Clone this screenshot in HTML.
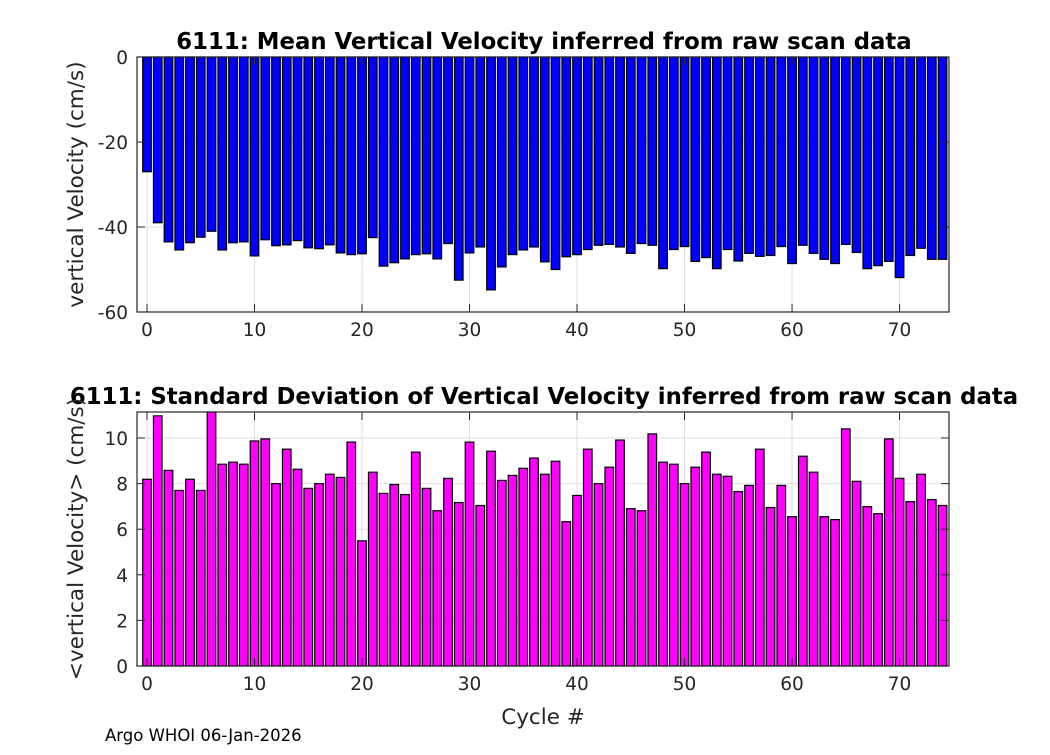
<!DOCTYPE html>
<html><head><meta charset="utf-8"><style>
body{margin:0;background:#fff;}
svg text{font-family:"DejaVu Sans","Liberation Sans",sans-serif;fill:#262626;}
</style></head><body>
<svg id="c" width="1050" height="750" xmlns="http://www.w3.org/2000/svg"></svg>
<script>
const cycles = Array.from({length:75},(_,i)=>i);
const meanVel = [-27,-39.0,-43.5,-45.4,-43.7,-42.4,-41.0,-45.4,-43.7,-43.5,-46.8,-43.0,-44.4,-44.2,-43.2,-44.9,-45.1,-44.2,-46.1,-46.5,-46.3,-42.5,-49.2,-48.4,-47.5,-46.5,-46.3,-47.5,-43.9,-52.5,-46.1,-44.7,-54.8,-49.4,-46.5,-45.4,-44.7,-48.2,-50.0,-47.0,-46.5,-45.3,-44.3,-44.1,-44.7,-46.2,-43.9,-44.3,-49.8,-45.3,-44.6,-48.1,-47.2,-49.8,-45.3,-48.0,-46.2,-46.9,-46.7,-44.6,-48.6,-44.3,-46.2,-47.6,-48.6,-44.1,-46.0,-49.8,-49.1,-48.1,-51.9,-46.7,-45.0,-47.6,-47.6];
const stdVel = [8.19,10.97,8.58,7.70,8.19,7.70,11.5,8.85,8.94,8.85,9.87,9.96,8.0,9.51,8.63,7.79,8.0,8.41,8.27,9.82,5.49,8.50,7.57,7.96,7.52,9.38,7.79,6.81,8.23,7.17,9.82,7.04,9.42,8.14,8.36,8.67,9.12,8.41,8.98,6.33,7.48,9.51,8.0,8.72,9.91,6.90,6.81,10.18,8.94,8.85,8.0,8.72,9.38,8.41,8.32,7.65,7.92,9.51,6.95,7.92,6.55,9.20,8.50,6.55,6.42,10.40,8.10,6.99,6.68,9.96,8.23,7.21,8.41,7.30,7.04];
const xTicks = [0,10,20,30,40,50,60,70];
const yTicksTop = [0,-20,-40,-60];
const yTicksBot = [0,2,4,6,8,10];

const NS="http://www.w3.org/2000/svg";
const svg=document.getElementById('c');
function el(t,a,txt){const e=document.createElementNS(NS,t);for(const k in a)e.setAttribute(k,a[k]);if(txt!==undefined)e.textContent=txt;svg.appendChild(e);return e;}
const L=137,R=949,X0=-0.93,X1=74.6;
const sx=v=>L+(v-X0)/(X1-X0)*(R-L);
const bw=0.8*(R-L)/(X1-X0);

function panel(top,bot,y0,y1,yticks,vals,color,title,ylab,pfx){
  const sy=v=>bot-(v-y0)/(y1-y0)*(bot-top);
  let g;
  xTicks.forEach(t=>{g=el('line',{x1:sx(t),x2:sx(t),y1:top,y2:bot,stroke:'#dfdfdf','stroke-width':1});
    });
  yticks.forEach(t=>{g=el('line',{x1:L,x2:R,y1:sy(t),y2:sy(t),stroke:'#dfdfdf','stroke-width':1});
    });
  const base=sy(0);
  vals.forEach((v,i)=>{
    const yv=Math.max(top,Math.min(bot,sy(v)));
    const b=el('rect',{x:sx(cycles[i])-bw/2,y:Math.min(base,yv),width:bw,height:Math.abs(yv-base),fill:color,stroke:'#000','stroke-width':1.2});
    
    
  });
  const f=el('rect',{x:L,y:top,width:R-L,height:bot-top,fill:'none',stroke:'#262626','stroke-width':1.2});
  
  xTicks.forEach(t=>{
    el('line',{x1:sx(t),x2:sx(t),y1:bot,y2:bot-8,stroke:'#262626'});
    el('line',{x1:sx(t),x2:sx(t),y1:top,y2:top+8,stroke:'#262626'});
    const tx=el('text',{x:sx(t),y:bot+24,'font-size':18.5,'text-anchor':'middle'},t);
    
  });
  yticks.forEach(t=>{
    el('line',{x1:L,x2:L+8,y1:sy(t),y2:sy(t),stroke:'#262626'});
    el('line',{x1:R,x2:R-8,y1:sy(t),y2:sy(t),stroke:'#262626'});
    const tx=el('text',{x:L-9,y:sy(t)+7,'font-size':18.5,'text-anchor':'end'},t);
    
  });
  const tt=el('text',{x:544,y:top-8,'font-size':22.8,'font-weight':'bold','text-anchor':'middle',style:'fill:#000'},title);
  
  const cy=(top+bot)/2;
  const yl=el('text',{x:83,y:cy,'font-size':21.5,'text-anchor':'middle',transform:`rotate(-90 83 ${cy})`},ylab);
  
}
panel(57,312,-60,0,yTicksTop,meanVel,'#0000ff','6111: Mean Vertical Velocity inferred from raw scan data','vertical Velocity (cm/s)','mean');
panel(412,666,0,11.14,yTicksBot,stdVel,'#ff00ff','6111: Standard Deviation of Vertical Velocity inferred from raw scan data','<vertical Velocity> (cm/s)','std');
let t=el('text',{x:543,y:724,'font-size':21.5,'text-anchor':'middle'},'Cycle #');

t=el('text',{x:105,y:741,'font-size':16.5,style:'fill:#000'},'Argo WHOI 06-Jan-2026');

</script>
</body></html>
